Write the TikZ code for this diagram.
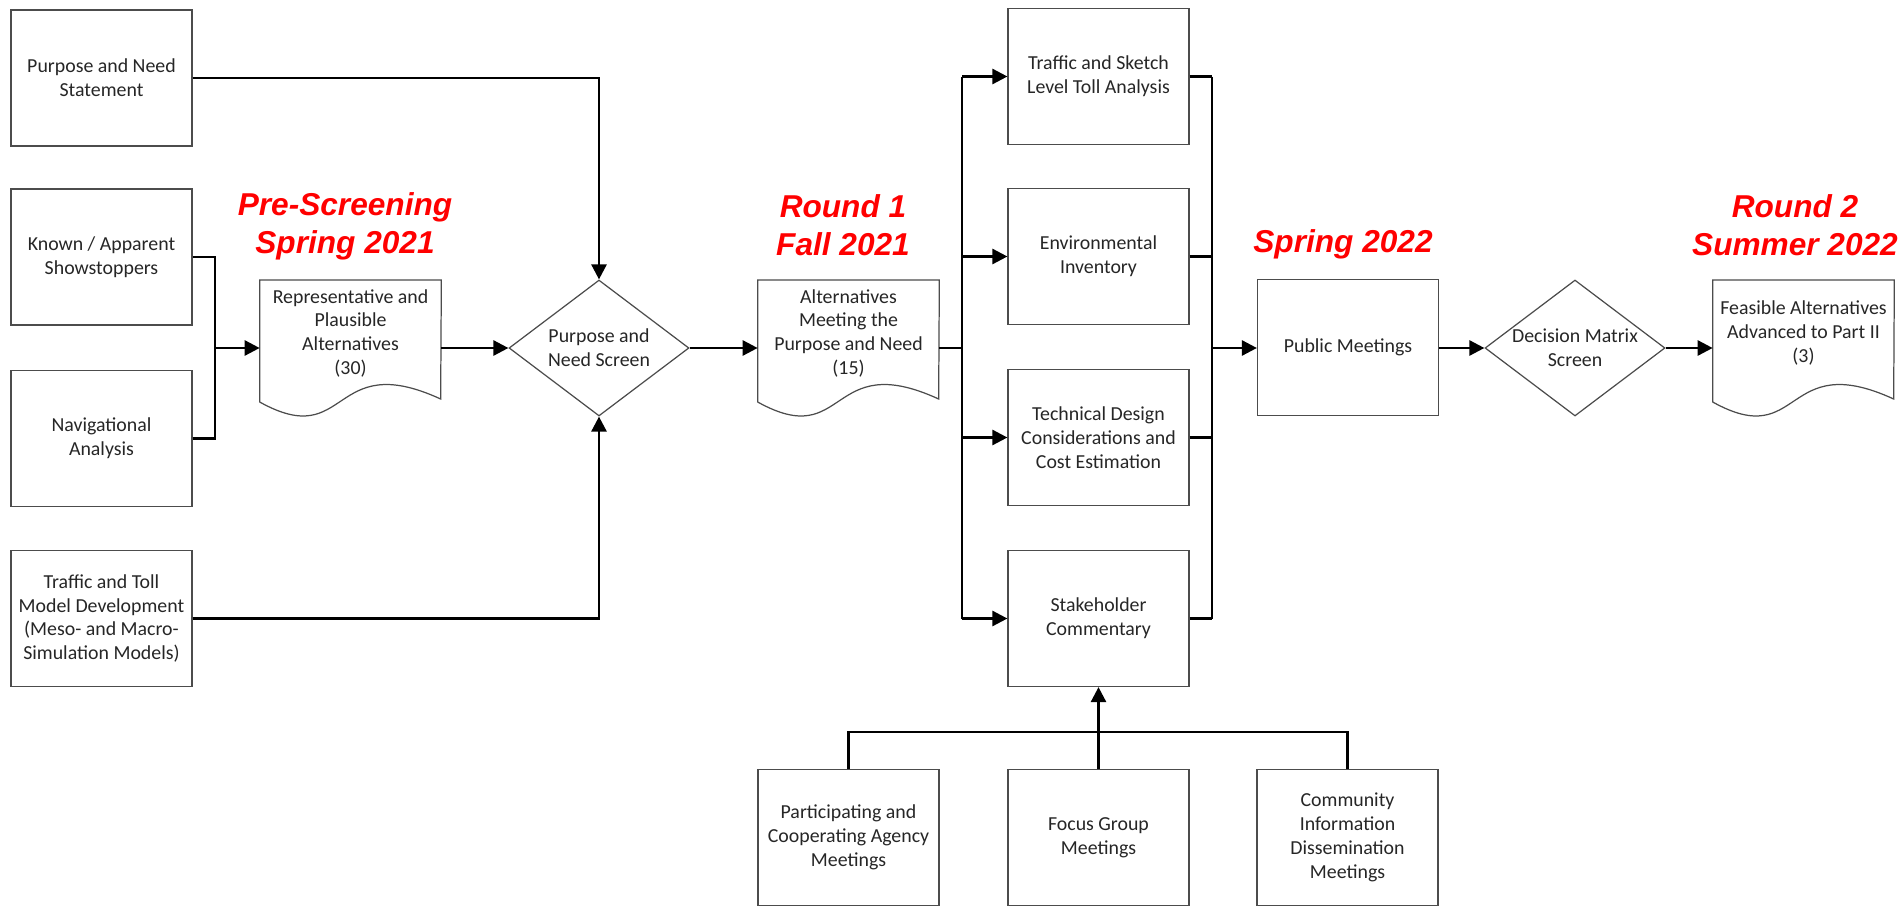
\documentclass[tikz,border=0pt]{standalone}
\usepackage{fontspec}
\setmainfont{Carlito}
\newfontfamily\phasefont{Liberation Sans}
\usetikzlibrary{shapes.geometric,arrows.meta}
\begin{document}
\begin{tikzpicture}[x=0.02cm,y=-0.02cm,
    box/.style={draw=black!70,line width=0.7pt,minimum width=3.62cm,minimum height=2.72cm,align=center,inner sep=0pt,font=\fontsize{11.3}{13.6}\selectfont,text=black!85},
    docbox/.style={minimum width=3.62cm,minimum height=2.12cm,anchor=north,align=center,inner sep=0pt,font=\fontsize{11.3}{13.6}\selectfont,text=black!85},
    screen/.style={diamond,draw=black!70,line width=0.7pt,minimum width=3.6cm,minimum height=2.72cm,aspect=1.3,inner sep=0pt,align=center,font=\fontsize{11.3}{13.6}\selectfont,text=black!85},
    phase/.style={align=center,text=red,font=\phasefont\bfseries\itshape\fontsize{18}{21.5}\selectfont},
    conn/.style={line width=1.5pt,black},
    arr/.style={-{Triangle[length=0.3cm,width=0.3cm]}}]
    \useasboundingbox (0,0) rectangle (1901,906) ;

    \node[box] (purpose) at (101.5,78) {Purpose and Need\\Statement} ;
    \node[box] (showstop) at (101.5,257) {Known / Apparent\\Showstoppers} ;
    \node[box] (navig) at (101.5,438.5) {Navigational\\Analysis} ;
    \node[box] (model) at (101.5,618.5) {Traffic and Toll\\Model Development\\(Meso- and Macro-\\Simulation Models)} ;

    \node[docbox] (repalt) at (350.5,280) {Representative and\\Plausible\\Alternatives\\(30)} ;
    \node[screen] (pnscreen) at (599,348) {Purpose and\\Need Screen} ;
    \node[docbox] (meetalt) at (848.5,280) {Alternatives\\Meeting the\\Purpose and Need\\(15)} ;

    \node[box] (tsketch) at (1098.5,76.5) {Traffic and Sketch\\Level Toll Analysis} ;
    \node[box] (envinv) at (1098.5,256.5) {Environmental\\Inventory} ;
    \node[box] (techdes) at (1098.5,437.5) {Technical Design\\Considerations and\\Cost Estimation} ;
    \node[box] (stake) at (1098.5,618.5) {Stakeholder\\Commentary} ;

    \node[box] (agency) at (848.5,837.5) {Participating and\\Cooperating Agency\\Meetings} ;
    \node[box] (focus) at (1098.5,837.5) {Focus Group\\Meetings} ;
    \node[box] (community) at (1347.5,837.5) {Community\\Information\\Dissemination\\Meetings} ;

    \node[box] (pubmeet) at (1348,347.5) {Public Meetings} ;
    \node[screen] (dmscreen) at (1575,348) {Decision Matrix\\Screen} ;
    \node[docbox] (feasalt) at (1803.5,280) {Feasible Alternatives\\Advanced to Part II\\(3)} ;

    \foreach \d in {repalt,meetalt,feasalt}
        \draw[draw=black!70,line width=0.7pt] (\d.north east)--(\d.north west)--++(0,122) .. controls +(90,50) and +(-111,-51) .. ++(181,-3)--cycle ;

    \node[phase] (prescreen) at (345,226) {Pre-Screening\\Spring 2021} ;
    \node[phase] (round1) at (843,225) {Round 1\\Fall 2021} ;
    \node[phase] (spring22) at (1343,244) {Spring 2022} ;
    \node[phase] (round2) at (1795,225) {Round 2\\Summer 2022} ;

    \coordinate (join) at (215,348) ;
    \coordinate (busl) at (962,348) ;
    \coordinate (busr) at (1212,348) ;
    \coordinate (bar) at (1098.5,732) ;

    \draw[conn,arr] (purpose.east) -| (pnscreen.north) ;
    \draw[conn,arr] (model.east) -| (pnscreen.south) ;
    \draw[conn] (showstop.east) -| (join) ;
    \draw[conn] (navig.east) -| (join) ;
    \draw[conn,arr] (join) -- (repalt.west |- join) ;
    \draw[conn,arr] (repalt.east |- join) -- (pnscreen.west) ;
    \draw[conn,arr] (pnscreen.east) -- (meetalt.west |- pnscreen) ;
    \draw[conn] (meetalt.east |- busl) -- (busl) ;
    \draw[conn] (busl |- tsketch) -- (busl |- stake) ;
    \foreach \b in {tsketch,envinv,techdes,stake}{
        \draw[conn,arr] (busl |- \b) -- (\b.west) ;
        \draw[conn] (\b.east) -- (busr |- \b) ;}
    \draw[conn] (busr |- tsketch) -- (busr |- stake) ;
    \draw[conn,arr] (busr) -- (pubmeet.west |- busr) ;
    \draw[conn,arr] (pubmeet.east |- dmscreen) -- (dmscreen.west) ;
    \draw[conn,arr] (dmscreen.east) -- (feasalt.west |- dmscreen) ;
    \draw[conn] (agency.north) |- (bar) -| (community.north) ;
    \draw[conn,arr] (focus.north) -- (stake.south) ;
\end{tikzpicture}
\end{document}
